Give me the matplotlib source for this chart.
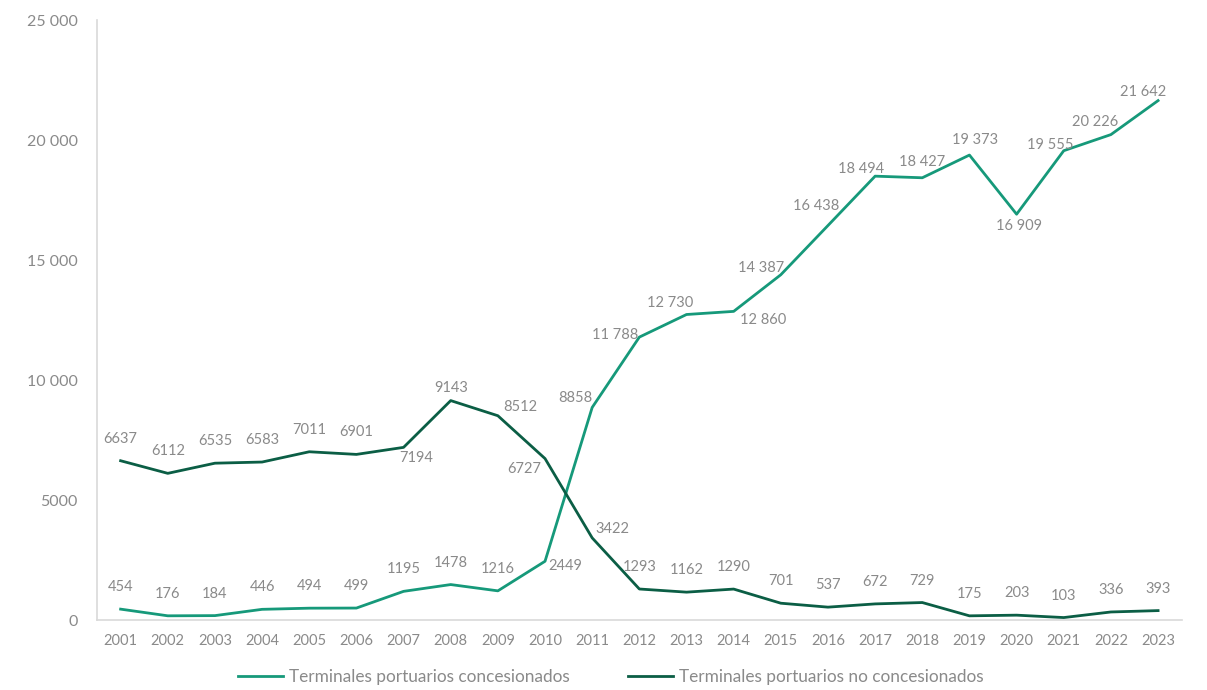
import numpy as np
import matplotlib.pyplot as plt
from matplotlib.ticker import FuncFormatter

plt.rcParams['font.family'] = ['Lato', 'DejaVu Sans']

years = [str(y) for y in range(2001, 2024)]
concesionados = [454, 176, 184, 446, 494, 499, 1195, 1478, 1216, 2449, 8858,
                 11788, 12730, 12860, 14387, 16438, 18494, 18427, 19373, 16909,
                 19555, 20226, 21642]
no_concesionados = [6637, 6112, 6535, 6583, 7011, 6901, 7194, 9143, 8512, 6727,
                    3422, 1293, 1162, 1290, 701, 537, 672, 729, 175, 203, 103,
                    336, 393]

c_light = '#16997a'
c_dark = '#0b5e45'
grey = '#8a8a8a'


def fmt(v):
    # separador de miles con espacio solo desde 5 cifras
    s = f'{int(v):d}'
    if len(s) > 4:
        s = f'{int(v):,}'.replace(',', ' ')
    return s


# desplazamientos de etiquetas en pixeles (dx, dy)
off_c = [(0, 22)] * 9 + [(20, -5), (-17, 9), (-24, 2), (-16, 12), (29, -9),
                          (-20, 7), (-12, 20), (-14, 7), (0, 16), (6, 15),
                          (2, -12), (-14, 6), (-16, 13), (-15, 9)]
off_n = [(0, 22)] * 6 + [(13, -11), (0, 13), (22, 9), (-21, -10), (20, 9)] + [(0, 22)] * 12

fig = plt.figure(figsize=(12.07, 6.9), dpi=100)
ax = fig.add_axes([0.0804, 0.1014, 0.8986, 0.8696])

x = np.arange(len(years))
ax.plot(x, concesionados, color=c_light, lw=2, label='Terminales portuarios concesionados')
ax.plot(x, no_concesionados, color=c_dark, lw=2, label='Terminales portuarios no concesionados')

for xi, v, o in zip(x, concesionados, off_c):
    ax.annotate(fmt(v), (xi, v), xytext=o, textcoords='offset pixels',
                ha='center', va='center', fontsize=10.5, color=grey)
for xi, v, o in zip(x, no_concesionados, off_n):
    ax.annotate(fmt(v), (xi, v), xytext=o, textcoords='offset pixels',
                ha='center', va='center', fontsize=10.5, color=grey)

ax.set_xlim(-0.5, len(years) - 0.5)
ax.set_ylim(0, 25000)
ax.set_xticks(x)
ax.set_xticklabels(years)
ax.set_yticks(np.arange(0, 25001, 5000))
ax.yaxis.set_major_formatter(FuncFormatter(lambda v, p: fmt(v)))
ax.tick_params(length=0, colors=grey, labelsize=10.5)
ax.tick_params(axis='y', labelsize=11.5)
ax.tick_params(axis='x', pad=10)
ax.tick_params(axis='y', pad=14)

for s in ['top', 'right']:
    ax.spines[s].set_visible(False)
for s in ['left', 'bottom']:
    ax.spines[s].set_color('#d9d9d9')
    ax.spines[s].set_linewidth(1.2)

leg = fig.legend(loc='center', bbox_to_anchor=(0.506, 0.019), ncol=2, frameon=False,
                 fontsize=12.4, handlelength=2.6, columnspacing=3.4, handletextpad=0.35)
for t in leg.get_texts():
    t.set_color(grey)

fig.savefig('out.png', dpi=100)
